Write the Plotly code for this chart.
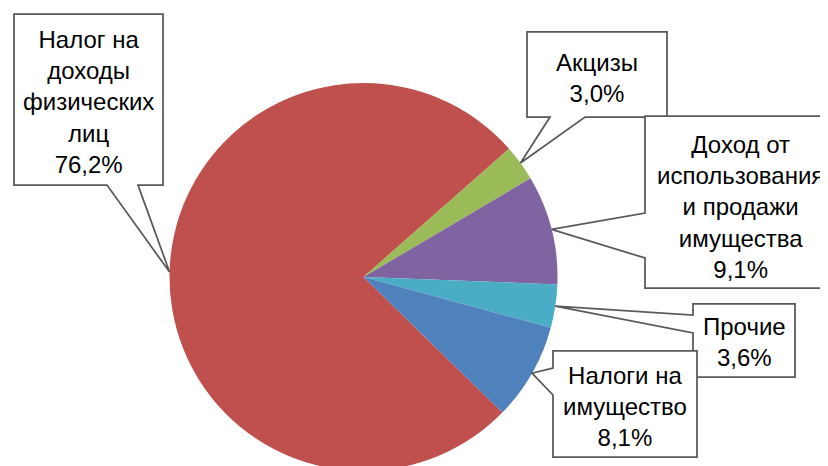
import math
import plotly.graph_objects as go

W, H = 828, 466
OFF = 8  # page body margin: figure is drawn 8px right/down in the window

# ---- data ----
labels = ["Налог на доходы физических лиц", "Акцизы",
          "Доход от использования и продажи имущества", "Прочие",
          "Налоги на имущество"]
label_lines = ["Налог на<br>доходы<br>физических<br>лиц", "Акцизы",
               "Доход от<br>использования<br>и продажи<br>имущества", "Прочие",
               "Налоги на<br>имущество"]
values = [76.2, 3.0, 9.1, 3.6, 8.1]
colors = ["#C0504D", "#9BBB59", "#8064A2", "#4BACC6", "#4F81BD"]

# ---- layout geometry (window pixels) ----
R = 194
CX = 363.5
CY = 277
ROT = 134.3

# callout boxes: (x0, y0, x1, y1, side, base_a, base_b, text_y)
boxes = [
    (14, 14, 163, 185, "bottom", 107, 138, 102),
    (527, 32, 667, 117, "bottom", 550, 585, 78),
    (645, 116, 840, 288, "left", 213, 258, 207),
    (693, 304, 795, 377, "left", 315, 333, 342),
    (553, 351, 697, 457, "left", 368, 395, 406),
]


def px(x):
    return (x - OFF) / W


def py(y):
    return 1 - (y - OFF) / H


fig = go.Figure(go.Pie(
    labels=labels, values=values, sort=False, direction="clockwise",
    rotation=ROT, marker=dict(colors=colors, line=dict(width=0)),
    textinfo="none", textposition="none", hoverinfo="label+percent",
    showlegend=False,
    domain=dict(x=[px(CX - R), px(CX + R)], y=[py(CY + R), py(CY - R)]),
))

total = sum(values)
cum = 0
shapes = []
annotations = []
for i, v in enumerate(values):
    mid = math.radians(ROT + (cum + v / 2) / total * 360)
    cum += v
    tx = CX + R * math.sin(mid)
    ty = CY - R * math.cos(mid)
    x0, y0, x1, y1, side, a, b, text_y = boxes[i]
    if side == "bottom":
        pts = [(x0, y0), (x1, y0), (x1, y1), (b, y1), (tx, ty), (a, y1), (x0, y1)]
    else:
        pts = [(x0, y0), (x1, y0), (x1, y1), (x0, y1), (x0, b), (tx, ty), (x0, a)]
    path = "M " + " L ".join(f"{px(x):.5f},{py(y):.5f}" for x, y in pts) + " Z"
    shapes.append(dict(type="path", path=path, xref="paper", yref="paper",
                       fillcolor="white", line=dict(color="#595959", width=1.75)))
    pct = f"{v:.1f}".replace(".", ",") + "%"
    annotations.append(dict(
        x=px((x0 + min(x1, 835)) / 2), y=py(text_y), xref="paper", yref="paper",
        text=label_lines[i] + "<br>" + pct, showarrow=False,
        xanchor="center", yanchor="middle", align="center",
        font=dict(family="Liberation Sans", size=24, color="#000000")))

fig.update_layout(
    width=W, height=H, margin=dict(l=0, r=0, t=0, b=0),
    paper_bgcolor="white", plot_bgcolor="white",
    shapes=shapes, annotations=annotations,
)

fig.write_html("out.html")
